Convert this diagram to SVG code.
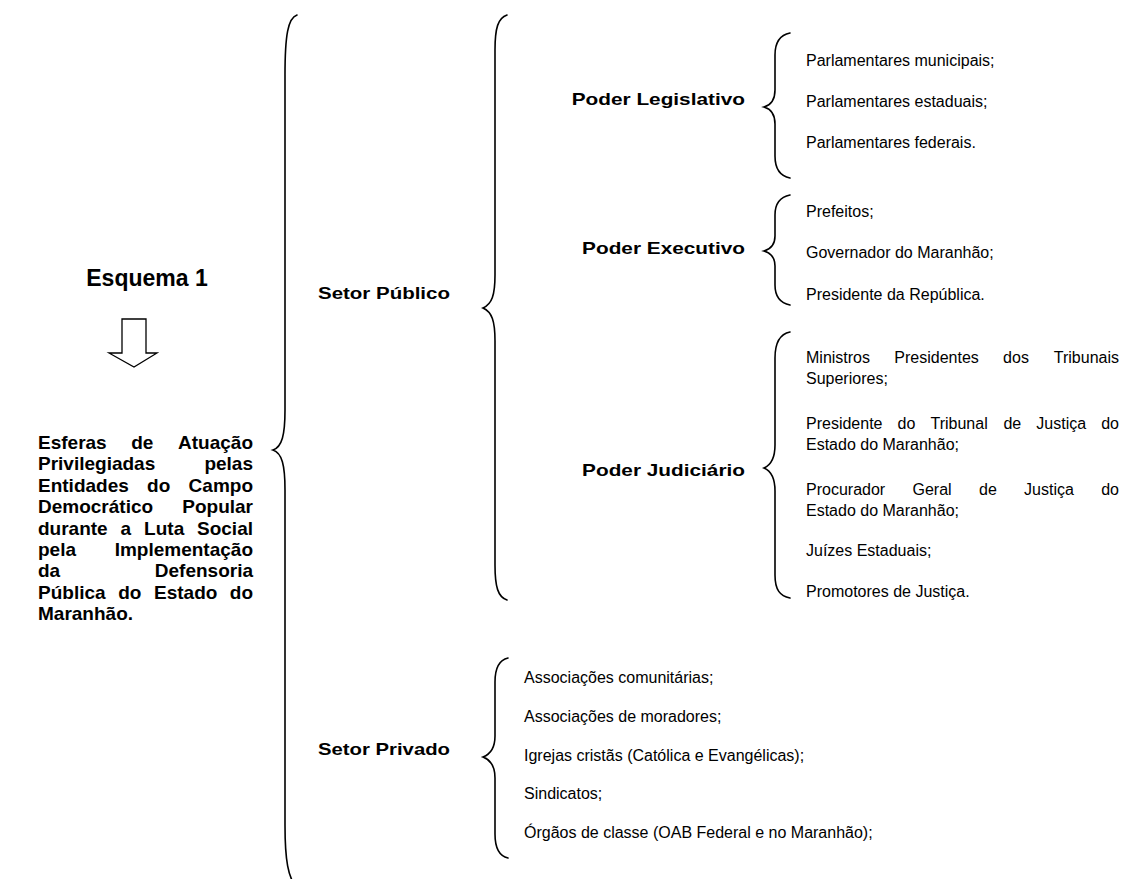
<svg xmlns="http://www.w3.org/2000/svg" width="1121" height="879" viewBox="0 0 1121 879">
<style>
.brace{fill:none;stroke:#000;stroke-width:1.6;stroke-linecap:round}
.lt{font-family:"Liberation Sans",Arial,sans-serif;font-weight:bold;font-size:19px;fill:#000}
.lbl{font-family:"Liberation Sans",Arial,sans-serif;font-weight:bold;font-size:16px;fill:#000}
.it{font-family:"Liberation Sans",Arial,sans-serif;font-size:16px;fill:#000}
.title{font-family:"Liberation Sans",Arial,sans-serif;font-weight:bold;font-size:23px;fill:#000}
.e{text-anchor:end}
</style>
<rect width="1121" height="879" fill="#fff"/>

<g id="connectors">
  <!-- main brace -->
  <path class="brace" d="M297,15 C288,18 285,35 285,75 L285,410 C285,435 282,447 273,450 C282,453 285,465 285,490 L285,825 C285,860 288,878 297,888"/>
  <!-- setor publico brace -->
  <path class="brace" d="M507,15 C498,18 495,28 495,50 L495,275 C495,295 492,304 483,308 C492,312 495,321 495,341 L495,565 C495,587 498,597 507,600"/>
  <!-- legislativo -->
  <path class="brace" d="M790,33 C780,35 775,42 775,55 L775,90 C775,100 771,105 764,107 C771,109 775,114 775,124 L775,156 C775,169 780,176 790,178"/>
  <!-- executivo -->
  <path class="brace" d="M790,195 C780,197 775,204 775,215 L775,236 C775,245 771,249 764,251 C771,253 775,257 775,266 L775,285 C775,296 780,303 790,305"/>
  <!-- judiciario -->
  <path class="brace" d="M790,332 C780,334 775,342 775,358 L775,445 C775,458 771,465 764,468 C771,471 775,478 775,491 L775,575 C775,590 780,596 790,598"/>
  <!-- setor privado -->
  <path class="brace" d="M508,658 C499,660 495,668 495,682 L495,736 C495,748 491,754 483,757 C491,760 495,766 495,778 L495,834 C495,848 499,856 508,858"/>
</g>

<g id="title">
  <text class="title" x="147" y="286" text-anchor="middle">Esquema 1</text>
</g>

<g id="arrow">
  <polygon points="122,319 146,319 146,353 157,353 134,367 109,353 122,353" fill="#fff" stroke="#000" stroke-width="1.3" stroke-linejoin="miter"/>
</g>

<g id="esferas">
  <text class="lt" y="449"><tspan x="38">Esferas</tspan><tspan x="131.2">de</tspan><tspan x="253" text-anchor="end">Atuação</tspan></text>
  <text class="lt" y="470.4"><tspan x="38">Privilegiadas</tspan><tspan x="253" text-anchor="end">pelas</tspan></text>
  <text class="lt" y="491.8"><tspan x="38">Entidades</tspan><tspan x="147.1">do</tspan><tspan x="253" text-anchor="end">Campo</tspan></text>
  <text class="lt" y="513.2"><tspan x="38">Democrático</tspan><tspan x="253" text-anchor="end">Popular</tspan></text>
  <text class="lt" y="534.6"><tspan x="38">durante</tspan><tspan x="120.6">a</tspan><tspan x="144.1">Luta</tspan><tspan x="253" text-anchor="end">Social</tspan></text>
  <text class="lt" y="556"><tspan x="38">pela</tspan><tspan x="253" text-anchor="end">Implementação</tspan></text>
  <text class="lt" y="577.4"><tspan x="38">da</tspan><tspan x="253" text-anchor="end">Defensoria</tspan></text>
  <text class="lt" y="598.8"><tspan x="38">Pública</tspan><tspan x="118.2">do</tspan><tspan x="154">Estado</tspan><tspan x="253" text-anchor="end">do</tspan></text>
  <text class="lt" y="620.2" x="38">Maranhão.</text>
</g>

<g id="setor-publico">
  <text class="lbl" transform="translate(318,299) scale(1.28,1)">Setor Público</text>
</g>

<g id="poder-legislativo">
  <text class="lbl e" transform="translate(745,105) scale(1.3,1)">Poder Legislativo</text>
  <text class="it" x="806" y="66">Parlamentares municipais;</text>
  <text class="it" x="806" y="107">Parlamentares estaduais;</text>
  <text class="it" x="806" y="148">Parlamentares federais.</text>
</g>

<g id="poder-executivo">
  <text class="lbl e" transform="translate(745,254) scale(1.3,1)">Poder Executivo</text>
  <text class="it" x="806" y="217">Prefeitos;</text>
  <text class="it" x="806" y="258">Governador do Maranhão;</text>
  <text class="it" x="806" y="300">Presidente da República.</text>
</g>

<g id="poder-judiciario">
  <text class="lbl e" transform="translate(745,476) scale(1.3,1)">Poder Judiciário</text>
  <text class="it" y="363"><tspan x="806">Ministros</tspan><tspan x="894.3">Presidentes</tspan><tspan x="1003.1">dos</tspan><tspan x="1119" text-anchor="end">Tribunais</tspan></text>
  <text class="it" x="806" y="384">Superiores;</text>
  <text class="it" y="429"><tspan x="806">Presidente</tspan><tspan x="897.6">do</tspan><tspan x="930.5">Tribunal</tspan><tspan x="1003.4">de</tspan><tspan x="1036.3">Justiça</tspan><tspan x="1119" text-anchor="end">do</tspan></text>
  <text class="it" x="806" y="450">Estado do Maranhão;</text>
  <text class="it" y="495"><tspan x="806">Procurador</tspan><tspan x="912.5">Geral</tspan><tspan x="979">de</tspan><tspan x="1024.1">Justiça</tspan><tspan x="1119" text-anchor="end">do</tspan></text>
  <text class="it" x="806" y="516">Estado do Maranhão;</text>
  <text class="it" x="806" y="556">Juízes Estaduais;</text>
  <text class="it" x="806" y="597">Promotores de Justiça.</text>
</g>

<g id="setor-privado">
  <text class="lbl" transform="translate(318,755) scale(1.27,1)">Setor Privado</text>
  <text class="it" x="524" y="683">Associações comunitárias;</text>
  <text class="it" x="524" y="722">Associações de moradores;</text>
  <text class="it" x="524" y="761">Igrejas cristãs (Católica e Evangélicas);</text>
  <text class="it" x="524" y="799">Sindicatos;</text>
  <text class="it" x="524" y="838">Órgãos de classe (OAB Federal e no Maranhão);</text>
</g>
</svg>
